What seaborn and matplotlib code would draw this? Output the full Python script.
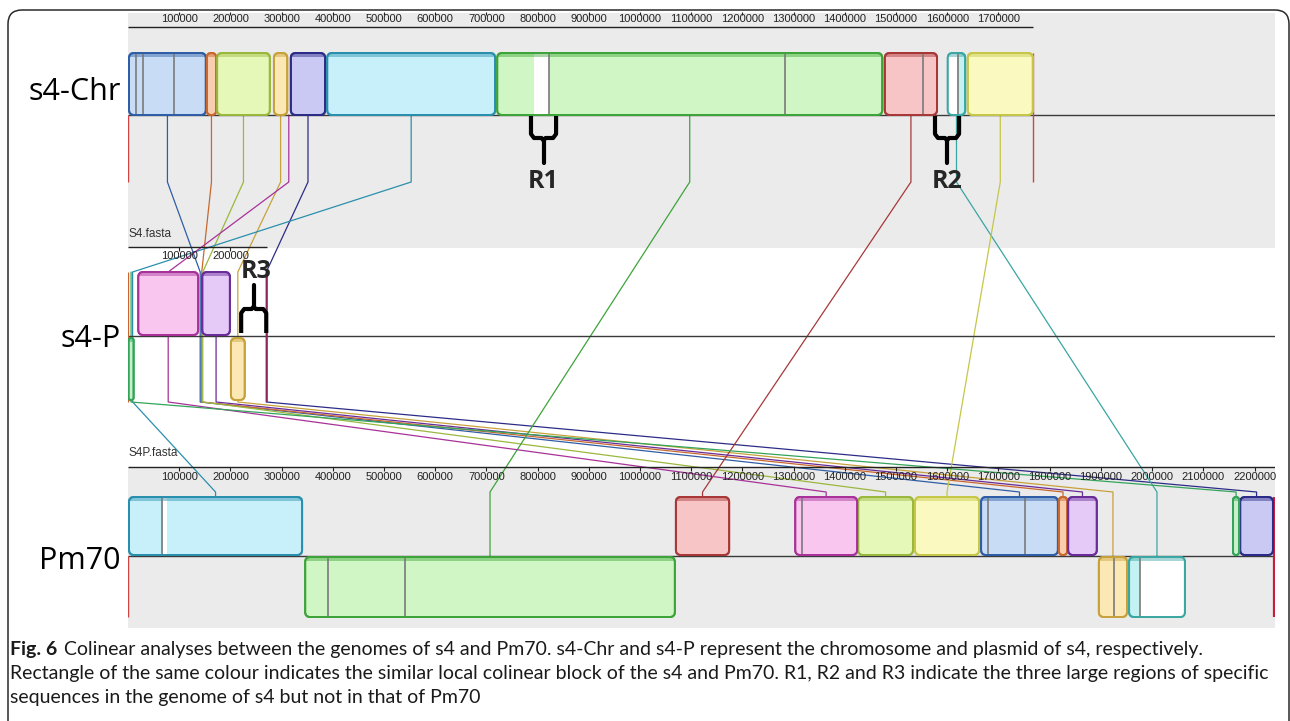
import matplotlib
matplotlib.use("Agg")
import matplotlib.pyplot as plt
from matplotlib.patches import FancyBboxPatch, Rectangle
import numpy as np
import pandas as pd
import seaborn as sns

# ---------------- data ----------------
genome_names = ["s4-Chr", "s4-P", "Pm70"]
file_names = ["S4.fasta", "S4P.fasta"]
chr_length = 1767000
plasmid_length = 272000
pm70_length = 2238000

chr_ticks = [100000, 200000, 300000, 400000, 500000, 600000, 700000, 800000, 900000,
             1000000, 1100000, 1200000, 1300000, 1400000, 1500000, 1600000, 1700000]
plasmid_ticks = [100000, 200000]
pm70_ticks = [100000, 200000, 300000, 400000, 500000, 600000, 700000, 800000, 900000,
              1000000, 1100000, 1200000, 1300000, 1400000, 1500000, 1600000, 1700000,
              1800000, 1900000, 2000000, 2100000, 2200000]

lcb_names = ["blue", "orange", "lime", "peach", "periwinkle", "cyan", "green", "red",
             "cyan2", "yellow", "pink", "lavender", "gthin"]
lcb_fill = ["#c8dcf6", "#f8cdb0", "#e6f8b8", "#fbe8b4", "#c9c9f4", "#c8f0fa", "#cff6c4",
            "#f7c5c5", "#c4f1f1", "#fafac0", "#f8c6ee", "#e5c9f7", "#c8efc8"]
lcb_edge = ["#2f5ea6", "#c8682e", "#9bb83e", "#c7a23c", "#2c2c88", "#2a8fad", "#3ea43a",
            "#a83838", "#3aa6a2", "#c6c648", "#a8329a", "#6a2c98", "#34a45a"]

chr_start = [2000, 154000, 174000, 285000, 318000, 389000, 721000, 1478000, 1601000, 1640000, None, None, None]
chr_end = [152000, 172000, 277000, 311000, 385000, 717000, 1473000, 1580000, 1635000, 1767000, None, None, None]

plasmid_start = [None, None, None, 201000, None, None, None, None, None, None, 20000, 145000, 1000]
plasmid_end = [None, None, None, 228000, None, None, None, None, None, None, 137000, 199000, 11000]
plasmid_strand = [0, 0, 0, -1, 0, 0, 0, 0, 0, 0, 1, 1, -1]

pm70_start = [1666000, 1818000, 1426000, 1896000, 2172000, 2000, 346000, 1070000, 1955000,
              1537000, 1303000, 1836000, 2158000]
pm70_end = [1816000, 1834000, 1533000, 1951000, 2236000, 340000, 1068000, 1174000, 2064000,
            1662000, 1424000, 1892000, 2170000]
pm70_strand = [1, 1, 1, -1, 1, 1, -1, 1, -1, 1, 1, 1, 1]

# connector positions used where an LCB is absent from a sequence
chr_absent_anchor = {"pink": 314000}
plasmid_absent_anchor = {"blue": 141000, "orange": 144000, "lime": 146000,
                         "periwinkle": 270000, "cyan": 9000}

# unaligned (white) stretches and grey marks inside blocks
chr_white = [(793000, 822000), (1601000, 1619000)]
pm70_white = [(68000, 76000), (1977000, 2070000)]
chr_marks = [16000, 29000, 90000, 822000, 1283000, 1553000, 1621000]
pm70_marks = [66000, 391000, 541000, 1316000, 1680000, 1752000, 1926000, 1976000]

region_names = ["R1", "R2", "R3"]
region_seq = ["chr", "chr", "plasmid"]
region_start = [787000, 1576000, 221000]
region_end = [836000, 1623000, 270000]

caption_bold = "Fig. 6"
caption_lines = [
    "Colinear analyses between the genomes of s4 and Pm70. s4-Chr and s4-P represent the chromosome and plasmid of s4, respectively.",
    "Rectangle of the same colour indicates the similar local colinear block of the s4 and Pm70. R1, R2 and R3 indicate the three large regions of specific",
    "sequences in the genome of s4 but not in that of Pm70",
]

# ---------------- layout ----------------
sns.set_theme(style="white")
plt.rcParams['font.family'] = ['Open Sans', 'DejaVu Sans']

W, H = 1290, 721
XMAX = 2240000
AX_L, AX_R = 128, 1275
BPX = XMAX / (AX_R - AX_L)   # bp per pixel

LV = {
    "chr": dict(upper=(53, 115), lower=(117, 177), center=115, ltop=115, lbot=182),
    "plasmid": dict(upper=(272, 335), lower=(338, 400), center=336, ltop=272, lbot=402),
    "pm70": dict(upper=(497, 555), lower=(557, 617), center=556, ltop=492, lbot=556),
}

fig = plt.figure(figsize=(W / 100, H / 100), dpi=100)
bg = fig.add_axes([0, 0, 1, 1])
bg.set_xlim(0, W); bg.set_ylim(H, 0); bg.axis("off")
ax = fig.add_axes([AX_L / W, 0, (AX_R - AX_L) / W, 1])
ax.set_zorder(2)

# panel backgrounds
ax.add_patch(Rectangle((0, 13), XMAX, 248 - 13, fc="#ebebeb", ec="none", zorder=0))
ax.add_patch(Rectangle((0, 467), XMAX, 628 - 467, fc="#ebebeb", ec="none", zorder=0))

# outer frame
bg.add_patch(FancyBboxPatch((8, 10), 1281, 760, boxstyle="round,pad=0,rounding_size=14",
                            fc="none", ec="#2a2a2a", lw=1.1))

# connectors
rows = []
for i, name in enumerate(lcb_names):
    pts = []
    if chr_start[i] is not None:
        a = (chr_start[i] + chr_end[i]) / 2
    else:
        a = chr_absent_anchor.get(name)
    if a is not None:
        pts += [(a, LV["chr"]["ltop"]), (a, LV["chr"]["lbot"])]
    if plasmid_start[i] is not None:
        b = (plasmid_start[i] + plasmid_end[i]) / 2
    else:
        b = plasmid_absent_anchor.get(name)
    if b is not None:
        pts += [(b, LV["plasmid"]["ltop"]), (b, LV["plasmid"]["lbot"])]
    c = (pm70_start[i] + pm70_end[i]) / 2
    pts += [(c, LV["pm70"]["ltop"]), (c, LV["pm70"]["lbot"])]
    for k, (x, y) in enumerate(pts):
        rows.append(dict(lcb=name, order=k, x=x, y=y))
conn = pd.DataFrame(rows)
sns.lineplot(data=conn, x="x", y="y", hue="lcb", units="lcb", estimator=None, sort=False,
             palette=dict(zip(lcb_names, lcb_edge)), legend=False, lw=0.9, ax=ax, zorder=2)

# centre lines
for key in ["chr", "plasmid", "pm70"]:
    ax.hlines(LV[key]["center"], 0, XMAX, color="#3a3a3a", lw=1.0, zorder=3)

# genome end markers
ax.vlines(0, 115, 182, color="#d04444", lw=1.0, zorder=3)
ax.vlines(chr_length, 53, 182, color="#d04444", lw=1.0, zorder=3)
ax.vlines(0, 272, 402, color="#c8642e", lw=1.0, zorder=3)
ax.vlines(plasmid_length, 272, 402, color="#9a2050", lw=1.2, zorder=3)
ax.vlines(0, 556, 617, color="#d04444", lw=1.0, zorder=3)
ax.vlines(pm70_length, 497, 617, color="#c81e3c", lw=1.6, zorder=3)


def draw_block(s, e, y0, y1, fill, edge, whites, marks):
    w = e - s
    r = min(5 * BPX, w / 2 * 0.95)
    p = FancyBboxPatch((s, y0), w, y1 - y0, boxstyle=f"round,pad=0,rounding_size={r}",
                       mutation_aspect=1 / BPX, fc=fill, ec=edge, lw=1.4, zorder=4)
    ax.add_patch(p)
    for ws, we in whites:
        if ws < e and we > s:
            rr = Rectangle((max(ws, s), y0), min(we, e) - max(ws, s), y1 - y0, fc="white",
                           ec="none", zorder=4.1)
            ax.add_patch(rr); rr.set_clip_path(p)
    band = Rectangle((s, y0), w, 4, fc=edge, ec="none", alpha=0.45, zorder=4.2)
    ax.add_patch(band); band.set_clip_path(p)
    for m in marks:
        if s < m < e:
            ln, = ax.plot([m, m], [y0, y1], color="#7a7a7a", lw=1.2, zorder=4.3)
            ln.set_clip_path(p)
    ax.add_patch(FancyBboxPatch((s, y0), w, y1 - y0, boxstyle=f"round,pad=0,rounding_size={r}",
                                mutation_aspect=1 / BPX, fc="none", ec=edge, lw=1.4, zorder=4.5))


for i in range(len(lcb_names)):
    if chr_start[i] is not None:
        draw_block(chr_start[i], chr_end[i], *LV["chr"]["upper"], lcb_fill[i], lcb_edge[i],
                   chr_white, chr_marks)
    if plasmid_start[i] is not None:
        yy = LV["plasmid"]["upper"] if plasmid_strand[i] > 0 else LV["plasmid"]["lower"]
        draw_block(plasmid_start[i], plasmid_end[i], *yy, lcb_fill[i], lcb_edge[i], [], [])
    yy = LV["pm70"]["upper"] if pm70_strand[i] > 0 else LV["pm70"]["lower"]
    draw_block(pm70_start[i], pm70_end[i], *yy, lcb_fill[i], lcb_edge[i], pm70_white, pm70_marks)

# rulers
tick_font = dict(family=["Liberation Sans Narrow", "Liberation Sans"], fontsize=8, color="#222222")
ax.hlines(27, 0, chr_length, color="#222222", lw=1.0, zorder=3)
for t in chr_ticks:
    ax.vlines(t, 12, 15, color="#222222", lw=0.8, zorder=3)
    ax.text(t, 18.5, str(t), ha="center", va="center", zorder=5, **tick_font)
ax.hlines(247, 0, plasmid_length, color="#222222", lw=1.0, zorder=3)
for t in plasmid_ticks:
    ax.vlines(t, 247, 251, color="#222222", lw=0.8, zorder=3)
    ax.text(t, 256, str(t), ha="center", va="center", zorder=5, **tick_font)
ax.hlines(467, 0, XMAX, color="#222222", lw=1.0, zorder=3)
for t in pm70_ticks:
    ax.vlines(t, 467, 471, color="#222222", lw=0.8, zorder=3)
    ax.text(t, 476.5, str(t), ha="center", va="center", zorder=5, **tick_font)

ax.text(1500, 234, file_names[0], ha="left", va="center", color="#333333", zorder=5,
        family=["Liberation Sans Narrow", "Liberation Sans"], fontsize=8.5)
ax.text(1500, 453, file_names[1], ha="left", va="center", color="#333333", zorder=5,
        family=["Liberation Sans Narrow", "Liberation Sans"], fontsize=8.5)

# region braces
for name, seq, s, e in zip(region_names, region_seq, region_start, region_end):
    m = (s + e) / 2
    b = BPX
    if seq == "chr":
        y0, yc, ys, yl = 116, 138, 163, 181
        pts = [(s, y0), (s, yc - 4), (s + 3 * b, yc), (m - 2 * b, yc), (m, yc + 2.5),
               (m + 2 * b, yc), (e - 3 * b, yc), (e, yc - 4), (e, y0)]
        stem = [(m, yc + 2.5), (m, ys)]
    else:
        y0, yc, ys, yl = 333, 309, 285, 272
        pts = [(s, y0), (s, yc + 4), (s + 3 * b, yc), (m - 2 * b, yc), (m, yc - 2.5),
               (m + 2 * b, yc), (e - 3 * b, yc), (e, yc + 4), (e, y0)]
        stem = [(m, yc - 2.5), (m, ys)]
    xs, ys_ = zip(*pts)
    ax.plot(xs, ys_, color="black", lw=3, zorder=6, solid_joinstyle="round", solid_capstyle="butt")
    xs, ys_ = zip(*stem)
    ax.plot(xs, ys_, color="black", lw=3, zorder=6)
    ax.text(m + (2 * b if seq != "chr" else 0), yl, name, ha="center", va="center",
            fontsize=18, fontweight="bold", zorder=6)

ax.set_xlim(0, XMAX)
ax.set_ylim(H, 0)
ax.axis("off")

# sequence labels
for name, yb in zip(genome_names, [100, 347, 569]):
    bg.text(121, yb, name, ha="right", va="baseline", fontsize=22, color="black")

# caption
cap_font = dict(family=["Lato", "DejaVu Sans"], fontsize=14, color="#1a1a1a")
y_lines = [655, 679, 703]
fb = bg.text(10, y_lines[0], caption_bold, ha="left", va="baseline", fontweight="bold", **cap_font)
bg.annotate(caption_lines[0], xy=(1, 0), xycoords=fb, xytext=(5, 0), textcoords="offset points",
            ha="left", va="bottom", **cap_font)
bg.text(10, y_lines[1], caption_lines[1], ha="left", va="baseline", **cap_font)
bg.text(10, y_lines[2], caption_lines[2], ha="left", va="baseline", **cap_font)

fig.savefig("out.png", dpi=100)
